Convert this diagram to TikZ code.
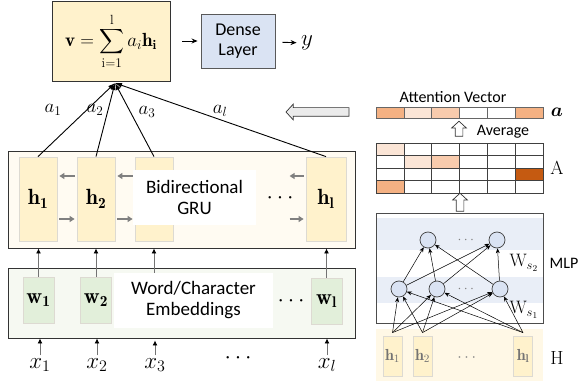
\documentclass[tikz,border=0pt]{standalone}
\usepackage{fix-cm}
\usepackage{amsmath}
\usepackage{bm}
\usepackage{fontspec}
\newfontfamily\calibri{Carlito}
\usetikzlibrary{arrows.meta,shapes.arrows}
\definecolor{sumyellow}{HTML}{FFF2CC}
\definecolor{denseblue}{HTML}{DAE3F3}
\definecolor{gruback}{HTML}{FFFBF2}
\definecolor{embback}{HTML}{F6F9F2}
\definecolor{embcell}{HTML}{E2EFDA}
\definecolor{cellline}{HTML}{DDDAD2}
\definecolor{bandblue}{HTML}{E9EEF7}
\definecolor{hback}{HTML}{FFF8E6}
\definecolor{orA}{HTML}{FBE5D6}
\definecolor{orB}{HTML}{F8CBAD}
\definecolor{orC}{HTML}{F4B183}
\definecolor{orD}{HTML}{C55A11}

\begin{document}
\begin{tikzpicture}[x=1pt,y=-1pt,
    frame/.style={draw=black!80,line width=0.9pt,inner sep=0pt},
    hcell/.style={draw=cellline,fill=sumyellow,line width=0.8pt,minimum width=38pt,minimum height=84pt,font=\fontsize{22}{26}\selectfont},
    wcell/.style={draw=cellline,fill=embcell,line width=0.8pt,minimum width=31pt,minimum height=46pt,inner sep=0pt,font=\fontsize{22}{26}\selectfont},
    smallcell/.style={draw=cellline,fill=sumyellow,line width=0.8pt,minimum width=19pt,minimum height=40pt,inner sep=0pt,text=black!55,font=\fontsize{16}{18}\selectfont},
    txt/.style={font=\calibri\fontsize{19}{21}\selectfont,align=center},
    stxt/.style={font=\calibri\fontsize{16}{18}\selectfont},
    mathtxt/.style={font=\fontsize{23}{26}\selectfont},
    arr/.style={-{Stealth[length=6pt,width=5pt]},line width=0.9pt},
    feed/.style={draw=black!55,line width=0.9pt,-{Latex[black,length=5pt,width=5pt]}},
    rnn/.style={draw=black!50,line width=1.4pt,-{Triangle[length=5pt,width=6pt]},shorten <=2pt,shorten >=2pt},
    vcell/.style={draw=black!60,line width=0.6pt},
    mcell/.style={draw=black!75,line width=0.6pt},
    neuron/.style={circle,draw=black!75,fill=denseblue,line width=0.7pt,minimum size=16pt,inner sep=0pt},
    link/.style={line width=0.5pt,-{Stealth[length=5pt,width=4pt]}},
    hollow/.style={single arrow,draw=black!80,fill=white,line width=0.7pt,inner sep=3.5pt,single arrow head extend=3.5pt,single arrow tip angle=95}]
    \useasboundingbox (0,0) rectangle (581,385);

    \node[frame,fill=sumyellow,minimum width=118pt,minimum height=80pt] (sum) at (111,41) {\fontsize{19}{22}\selectfont$\displaystyle\mathbf{v}=\sum_{\mathrm{i=1}}^{\mathrm{l}}a_i\mathbf{h}_{\mathbf{i}}$};
    \node[draw=black!65,line width=0.9pt,fill=denseblue,minimum width=74pt,minimum height=54pt,txt,font=\calibri\fontsize{18}{20}\selectfont] (dense) at (238,41) {Dense\\Layer};
    \node[mathtxt] (out) at (307,43) {$y$};
    \draw[arr,shorten <=12pt,shorten >=3pt] (sum) -- (dense);
    \draw[arr,shorten <=7pt,shorten >=1pt] (dense) -- (out);
    \coordinate (apex) at (115,83);

    \node[frame,fill=gruback,minimum width=347pt,minimum height=97pt] (gru) at (181.5,199.5) {};
    \node[hcell] (h1) at (38,199) {$\mathbf{h}_{\mathbf{1}}$};
    \node[hcell] (h2) at (96,199) {$\mathbf{h}_{\mathbf{2}}$};
    \node[hcell] (h3) at (154,199) {};
    \node[hcell,minimum width=40pt] (hl) at (326,199) {$\mathbf{h}_{\mathbf{l}}$};
    \draw[rnn] ([yshift=23pt]h2.west) -- ([yshift=23pt]h1.east);
    \draw[rnn] ([yshift=-20pt]h1.east) -- ([yshift=-20pt]h2.west);
    \draw[rnn] ([yshift=23pt]h3.west) -- ([yshift=23pt]h2.east);
    \draw[rnn] ([yshift=-20pt]h2.east) -- ([yshift=-20pt]h3.west);
    \draw[rnn] ([yshift=23pt]hl.west) -- ([shift={(-18pt,23pt)}]hl.west);
    \draw[rnn] ([shift={(-18pt,-20pt)}]hl.west) -- ([yshift=-20pt]hl.west);
    \node[fill=white,minimum width=123pt,minimum height=55pt,txt] (grutxt) at (194.5,197.5) {Bidirectional\\GRU};
    \node[mathtxt] (grudots) at (282,198) {$\cdots$};

    \draw[arr,-{Latex[length=7pt,width=5pt]}] (h1.north) -- (apex);
    \draw[arr,-{Latex[length=7pt,width=5pt]}] (h2.north) -- (apex);
    \draw[arr,-{Latex[length=7pt,width=5pt]}] (h3.north) -- (apex);
    \draw[arr,-{Latex[length=7pt,width=5pt]}] (hl.north) -- (apex);
    \node[font=\fontsize{19}{22}\selectfont] (a1) at (53,110) {$a_1$};
    \node[font=\fontsize{19}{22}\selectfont] (a2) at (95,110) {$a_2$};
    \node[font=\fontsize{19}{22}\selectfont] (a3) at (147,112) {$a_3$};
    \node[font=\fontsize{19}{22}\selectfont] (al) at (220,111) {$a_l$};

    \node[frame,fill=embback,minimum width=347pt,minimum height=70pt] (emb) at (181.5,303) {};
    \node[wcell] (w1) at (38.5,300) {$\mathbf{w}_{\mathbf{1}}$};
    \node[wcell] (w2) at (96,300) {$\mathbf{w}_{\mathbf{2}}$};
    \node[wcell] (wl) at (326.5,301) {$\mathbf{w}_{\mathbf{l}}$};
    \node[mathtxt] (embdots) at (293,301) {$\cdots$};

    \node[mathtxt,inner sep=0pt,outer sep=3pt] (x1) at (40,365) {$x_1$};
    \node[mathtxt,inner sep=0pt,outer sep=3pt] (x2) at (97,365) {$x_2$};
    \node[mathtxt,inner sep=0pt,outer sep=3pt] (x3) at (155,365) {$x_3$};
    \node[mathtxt] (xdots) at (240,358) {$\cdots$};
    \node[mathtxt,inner sep=0pt,outer sep=3pt] (xl) at (327,365) {$x_l$};
    \draw[feed] (x1.north) -- (x1.north |- emb.south);
    \draw[feed] (x2.north) -- (x2.north |- emb.south);
    \draw[feed] (x3.north) -- ([yshift=-2pt]x3.north |- emb.south);
    \draw[feed] (xl.north) -- (xl.north |- emb.south);
    \draw[feed] (w1.north) -- (w1.north |- gru.south);
    \draw[feed] (w2.north) -- (w2.north |- gru.south);
    \draw[feed] (wl.north) -- (wl.north |- gru.south);
    \node[fill=white,minimum width=159pt,minimum height=55pt,txt] (embtxt) at (193.5,300.5) {Word/Character\\Embeddings};
    \draw[feed] (embtxt.north -| h3) -- (h3 |- gru.south);

    \node[stxt] (attn) at (453,97) {Attention Vector};
    \foreach \c [count=\i] in {orC,orA,orB,white,white,orC}
        \draw[vcell,fill=\c] ({376+(\i-1)*27.83},107) rectangle ({376+\i*27.83},118);
    \node[font=\fontsize{19}{22}\selectfont] (avec) at (557,112) {$\bm{a}$};
    \node[hollow,fill=black!8,inner sep=4pt,minimum height=63pt,shape border rotate=180] (back) at (319.5,112) {};
    \node[hollow,minimum height=15pt,shape border rotate=90] (avg) at (459,130.5) {};
    \node[stxt] (avgtxt) at (503,132) {Average};

    \fill[orA] (376,143) rectangle ++(27.83,12.5);
    \fill[orA] (403.83,155.5) rectangle ++(27.83,12.5);
    \fill[orB] (431.67,155.5) rectangle ++(27.83,12.5);
    \fill[orD] (515.17,168) rectangle ++(27.83,12.5);
    \fill[orC] (376,180.5) rectangle ++(27.83,12.5);
    \foreach \r in {0,...,3}
        \foreach \c in {0,...,5}
            \draw[mcell] ({376+\c*27.83},{143+\r*12.5}) rectangle ++(27.83,12.5);
    \node[font=\fontsize{19}{22}\selectfont] (amat) at (557,168) {A};
    \node[hollow,minimum height=18pt,shape border rotate=90] (mlpin) at (460,204) {};

    \fill[bandblue] (376,218) rectangle (543,250);
    \fill[bandblue] (376,277) rectangle (543,303);
    \node[draw=black!70,line width=0.8pt,minimum width=167pt,minimum height=110pt] (mlp) at (459.5,268) {};
    \node[neuron] (t1) at (428,240) {};
    \node[neuron] (t2) at (497,240) {};
    \node[neuron] (b1) at (399,289) {};
    \node[neuron] (b2) at (437,289) {};
    \node[neuron] (b3) at (500,289) {};
    \node[text=black!50,font=\fontsize{14}{16}\selectfont] (tdots) at (467,240) {$\cdots$};
    \node[text=black!50,font=\fontsize{14}{16}\selectfont] (bdots) at (467,289) {$\cdots$};
    \node[anchor=west,font=\fontsize{18}{20}\selectfont] (ws2) at (506,263) {$\mathrm{W}_{s_2}$};
    \node[anchor=west,font=\fontsize{18}{20}\selectfont] (ws1) at (506,310) {$\mathrm{W}_{s_1}$};
    \node[stxt] (mlptxt) at (564,263) {MLP};

    \fill[hback] (376,329) rectangle (543,381);
    \node[smallcell] (hc1) at (392.5,356) {$\mathbf{h}_1$};
    \node[smallcell] (hc2) at (422.5,356) {$\mathbf{h}_2$};
    \node[smallcell] (hcl) at (523,356) {$\mathbf{h}_{\mathbf{l}}$};
    \node[text=black!50,font=\fontsize{16}{18}\selectfont] (hdots) at (468,358) {$\cdots$};
    \node[font=\fontsize{19}{22}\selectfont] (hmat) at (557,358) {H};
    \foreach \s in {hc1,hc2,hcl}
        \foreach \t in {b1,b2,b3}
            \draw[link] ([yshift=3pt]\s.north) -- (\t);
    \foreach \s in {b1,b2,b3}
        \foreach \t in {t1,t2}
            \draw[link] (\s) -- (\t);
\end{tikzpicture}
\end{document}
